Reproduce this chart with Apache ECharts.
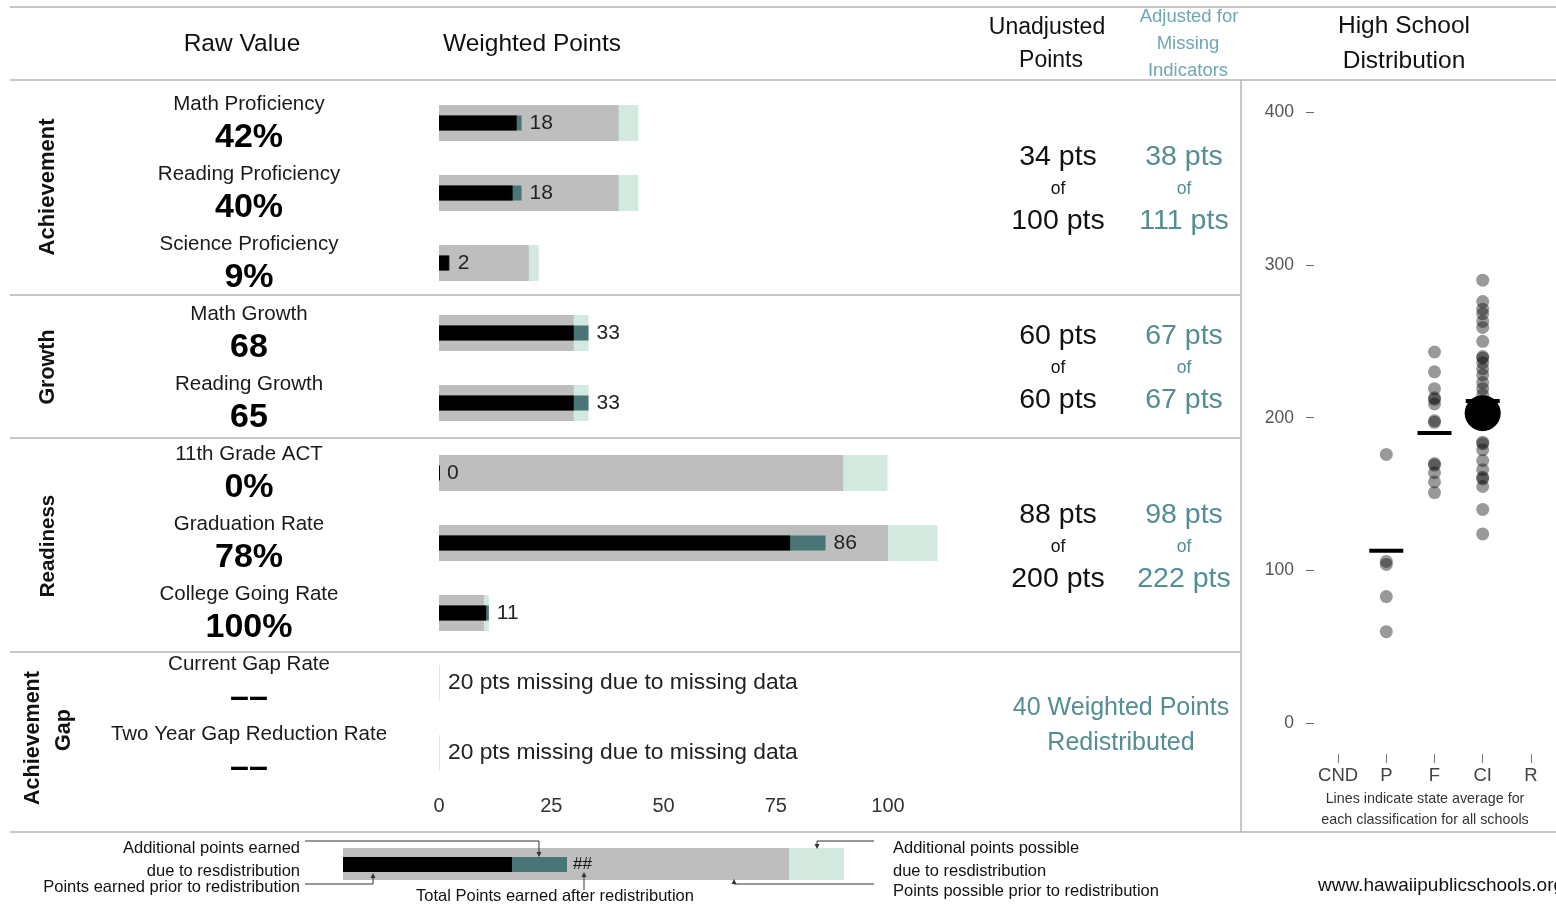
<!DOCTYPE html>
<html>
<head>
<meta charset="utf-8">
<script src="https://cdn.jsdelivr.net/npm/echarts@6/dist/echarts.min.js"></script>
<style>
  html, body { margin: 0; padding: 0; background: #fff; }
  #main { width: 1556px; height: 911px; }
</style>
</head>
<body>
<div id="main"></div>
<script>
// indicator rows, top to bottom
const indicators = ['Math Proficiency', 'Reading Proficiency', 'Science Proficiency', 'Math Growth', 'Reading Growth',
  '11th Grade ACT', 'Graduation Rate', 'College Going Rate', 'Current Gap Rate', 'Two Year Gap Reduction Rate'];
const rawValues = ['42%', '40%', '9%', '68', '65', '0%', '78%', '100%', '––', '––'];

// weighted points per indicator
const possiblePrior = [40, 40, 20, 30, 30, 90, 100, 10, null, null];
const possibleAdjusted = [44.4, 44.4, 22.2, 33.3, 33.3, 99.9, 111, 11.1, null, null];
const earnedPrior = [17.3, 16.4, 2.2, 30, 30, 0, 78.2, 10.5, null, null];
const earnedAdjusted = [18.4, 18.4, 2.4, 33.3, 33.3, 0, 86.1, 11.1, null, null];
const pointLabels = ['18', '18', '2', '33', '33', '0', '86', '11', '', ''];
const missingPts = [null, null, null, null, null, null, null, null, 20, 20];
const pointTicks = [0, 25, 50, 75, 100];

// section totals
const sections = ['Achievement', 'Growth', 'Readiness'];
const unadjEarned = [34, 60, 88];
const unadjPossible = [100, 60, 200];
const adjEarned = [38, 67, 98];
const adjPossible = [111, 67, 222];
const redistributed = 40;

// high school distribution
const classes = ['CND', 'P', 'F', 'CI', 'R'];
const scoreTicks = [0, 100, 200, 300, 400];
const pScores = [176, 106, 104, 83, 60];
const fScores = [243, 230, 219, 213, 212, 209, 198, 197, 170, 169, 164, 158, 151];
const ciScores = [290, 276, 271, 268, 263, 259, 250, 240, 239, 236, 232, 228, 223, 219, 215,
  184, 183, 179, 172, 166, 161, 160, 155, 140, 124];
const stateAverage = [null, 113, 190, 211, null];
const schoolClass = 'CI';
const schoolScore = 203;

const FONT = '"Liberation Sans", Arial, sans-serif';
const TEAL_TEXT = '#548d92';
const sectionMid = [189, 368, 547];   // vertical centre of each section's totals

const scatterOf = (cls, arr) => arr.map(v => [cls, v]);
const dots = [].concat(scatterOf('P', pScores), scatterOf('F', fScores), scatterOf('CI', ciScores));
const avgData = stateAverage.map((v, i) => v == null ? null : [classes[i], v]).filter(d => d);

const chart = echarts.init(document.getElementById('main'));

const txt = (text, x, y, o = {}) => ({
  type: 'text', x: x, y: y, rotation: o.rotation || 0, silent: true,
  style: {
    text: text, fontFamily: FONT, fontSize: o.size || 20, fontWeight: o.bold ? 'bold' : 'normal',
    fill: o.color || '#111', textAlign: o.align || 'center', textVerticalAlign: 'middle'
  }
});
const line = (x1, y1, x2, y2, c, w) => ({
  type: 'line', silent: true, shape: { x1, y1, x2, y2 },
  style: { stroke: c || '#b5b5b5', lineWidth: w || 1.5 }
});
const poly = (pts) => ({ type: 'polyline', silent: true, shape: { points: pts }, style: { stroke: '#333', lineWidth: 1, fill: null } });
const arrow = (x, y, dir) => ({
  type: 'polygon', silent: true,
  shape: { points: dir === 'down' ? [[x - 2.5, y - 5], [x + 2.5, y - 5], [x, y]] : [[x - 2.5, y + 5], [x + 2.5, y + 5], [x, y]] },
  style: { fill: '#333' }
});

const graphics = [
  // rules
  line(10, 7, 1556, 7), line(10, 80, 1556, 80), line(10, 295, 1240, 295),
  line(10, 438, 1240, 438), line(10, 652, 1240, 652), line(10, 832, 1556, 832),
  line(1241, 80, 1241, 832),
  // headers
  txt('Raw Value', 242, 44, { size: 24.5 }),
  txt('Weighted Points', 532, 44, { size: 24.5 }),
  txt('Unadjusted', 1047, 28, { size: 23 }),
  txt('Points', 1051, 61, { size: 23 }),
  txt('Adjusted for', 1189, 17, { size: 18.5, color: '#6fa6b3' }),
  txt('Missing', 1188, 44, { size: 18.5, color: '#6fa6b3' }),
  txt('Indicators', 1188, 71, { size: 18.5, color: '#6fa6b3' }),
  txt('High School', 1404, 26, { size: 24.5 }),
  txt('Distribution', 1404, 61, { size: 24.5 }),
  // section labels
  txt('Achievement', 48, 187, { size: 22, bold: true, rotation: Math.PI / 2 }),
  txt('Growth', 48, 367, { size: 21.5, bold: true, rotation: Math.PI / 2 }),
  txt('Readiness', 48, 546, { size: 20.5, bold: true, rotation: Math.PI / 2 }),
  txt('Achievement', 33, 738, { size: 21.5, bold: true, rotation: Math.PI / 2 }),
  txt('Gap', 64, 730, { size: 21.5, bold: true, rotation: Math.PI / 2 }),
  // redistribution note
  txt(redistributed + ' Weighted Points', 1121, 708, { size: 25, color: TEAL_TEXT }),
  txt('Redistributed', 1121, 743, { size: 25, color: TEAL_TEXT }),
  // distribution note
  txt('Lines indicate state average for', 1425, 799, { size: 14.3, color: '#333' }),
  txt('each classification for all schools', 1425, 820, { size: 14.3, color: '#333' }),
  // key
  { type: 'rect', silent: true, shape: { x: 343, y: 848, width: 446, height: 32 }, style: { fill: '#bebebe' } },
  { type: 'rect', silent: true, shape: { x: 789, y: 848, width: 55, height: 32 }, style: { fill: '#d3e8de' } },
  { type: 'rect', silent: true, shape: { x: 343, y: 857, width: 169, height: 15 }, style: { fill: '#000' } },
  { type: 'rect', silent: true, shape: { x: 512, y: 857, width: 55, height: 15 }, style: { fill: '#4a7576' } },
  txt('##', 573, 864, { size: 17, align: 'left' }),
  poly([[305, 841], [539, 841], [539, 855]]), arrow(539, 857, 'down'),
  poly([[305, 884], [373, 884], [373, 875]]), arrow(373, 873, 'up'),
  poly([[584, 890], [584, 875]]), arrow(584, 872, 'up'),
  poly([[874, 841], [817, 841], [817, 846]]), arrow(817, 849, 'down'),
  poly([[874, 884], [734, 884], [734, 882]]), arrow(734, 879, 'up'),
  txt('Additional points earned', 300, 848, { size: 16.5, align: 'right' }),
  txt('due to resdistribution', 300, 871, { size: 16.5, align: 'right' }),
  txt('Points earned prior to redistribution', 300, 887, { size: 16.5, align: 'right' }),
  txt('Total Points earned after redistribution', 555, 896, { size: 16.5 }),
  txt('Additional points possible', 893, 848, { size: 16.5, align: 'left' }),
  txt('due to resdistribution', 893, 871, { size: 16.5, align: 'left' }),
  txt('Points possible prior to redistribution', 893, 891, { size: 16.5, align: 'left' }),
  txt('www.hawaiipublicschools.org', 1318, 886, { size: 19, align: 'left' })
];

sections.forEach((s, k) => {
  const cy = sectionMid[k];
  graphics.push(
    txt(unadjEarned[k] + ' pts', 1058, cy - 32, { size: 28.5 }),
    txt('of', 1058, cy, { size: 17.5 }),
    txt(unadjPossible[k] + ' pts', 1058, cy + 32, { size: 28.5 }),
    txt(adjEarned[k] + ' pts', 1184, cy - 32, { size: 28.5, color: TEAL_TEXT }),
    txt('of', 1184, cy, { size: 17.5, color: TEAL_TEXT }),
    txt(adjPossible[k] + ' pts', 1184, cy + 32, { size: 28.5, color: TEAL_TEXT })
  );
});

const catAxis = (show) => ({
  type: 'category', gridIndex: 0, data: indicators, inverse: true, show: show,
  axisLine: { show: false }, axisTick: { show: false },
  axisLabel: {
    show: show, margin: 190, align: 'center', interval: 0,
    formatter: (v, i) => '{n|' + v + '}\n{v|' + rawValues[i] + '}',
    rich: {
      n: { fontFamily: FONT, fontSize: 20.5, color: '#1a1a1a', lineHeight: 30, align: 'center' },
      v: { fontFamily: FONT, fontSize: 34, fontWeight: 'bold', color: '#000', lineHeight: 38, align: 'center' }
    }
  }
});

const wideBar = { type: 'bar', xAxisIndex: 0, yAxisIndex: 0, barWidth: 36, barGap: '-100%', clip: false, silent: true };
const thinBar = { type: 'bar', xAxisIndex: 0, yAxisIndex: 1, barWidth: 15, barGap: '-100%', clip: false, silent: true };

chart.setOption({
  animation: false,
  textStyle: { fontFamily: FONT },
  grid: [
    { left: 439, right: 668, top: 88, bottom: 123 },
    { left: 1314, right: 1, top: 112, bottom: 157 }
  ],
  xAxis: [
    {
      type: 'value', gridIndex: 0, min: 0, max: 100,
      axisLine: { show: false }, axisTick: { show: false }, splitLine: { show: false },
      axisLabel: { customValues: pointTicks, fontSize: 20, color: '#333', margin: 8, fontFamily: FONT }
    },
    {
      type: 'category', gridIndex: 1, data: classes,
      axisLine: { show: false, onZero: false },
      axisTick: { show: true, alignWithLabel: true, interval: 0, length: 9, lineStyle: { color: '#777' } },
      axisLabel: { interval: 0, fontSize: 18.5, color: '#444', margin: 12, fontFamily: FONT }
    }
  ],
  yAxis: [
    catAxis(true),
    catAxis(false),
    {
      type: 'value', gridIndex: 1, min: -20, max: 400,
      axisLine: { show: false }, splitLine: { show: false },
      axisTick: { show: true, customValues: scoreTicks, length: 8, lineStyle: { color: '#666' } },
      axisLabel: { customValues: scoreTicks, fontSize: 17.5, color: '#555', margin: 20, fontFamily: FONT }
    }
  ],
  series: [
    Object.assign({}, wideBar, { name: 'missing', data: missingPts.map(v => v == null ? null : 0), barMinHeight: 1,
      itemStyle: { color: '#e2e2e2' },
      label: { show: true, position: 'right', distance: 8, fontSize: 22.8, color: '#222', fontFamily: FONT,
        formatter: p => missingPts[p.dataIndex] + ' pts missing due to missing data' } }),
    Object.assign({}, wideBar, { name: 'Additional points possible', data: possibleAdjusted, itemStyle: { color: '#d3e8de' } }),
    Object.assign({}, wideBar, { name: 'Points possible prior', data: possiblePrior, itemStyle: { color: '#bebebe' } }),
    Object.assign({}, thinBar, { name: 'Points earned after', data: earnedAdjusted, itemStyle: { color: '#4a7576' },
      label: { show: true, position: 'right', distance: 8, fontSize: 21, color: '#222', fontFamily: FONT,
        formatter: p => pointLabels[p.dataIndex] } }),
    Object.assign({}, thinBar, { name: 'Points earned prior', data: earnedPrior, barMinHeight: 1, itemStyle: { color: '#000' } }),
    {
      type: 'scatter', xAxisIndex: 1, yAxisIndex: 2, data: dots, symbolSize: 13, silent: true,
      itemStyle: { color: 'rgba(0,0,0,0.4)', opacity: 1 }
    },
    {
      type: 'scatter', xAxisIndex: 1, yAxisIndex: 2, data: avgData, symbol: 'rect', symbolSize: [34, 4], silent: true,
      itemStyle: { color: '#000', opacity: 1 }
    },
    {
      type: 'scatter', xAxisIndex: 1, yAxisIndex: 2, data: [[schoolClass, schoolScore]], symbolSize: 36, silent: true,
      itemStyle: { color: '#000', opacity: 1 }
    }
  ],
  graphic: graphics
});
</script>
</body>
</html>
